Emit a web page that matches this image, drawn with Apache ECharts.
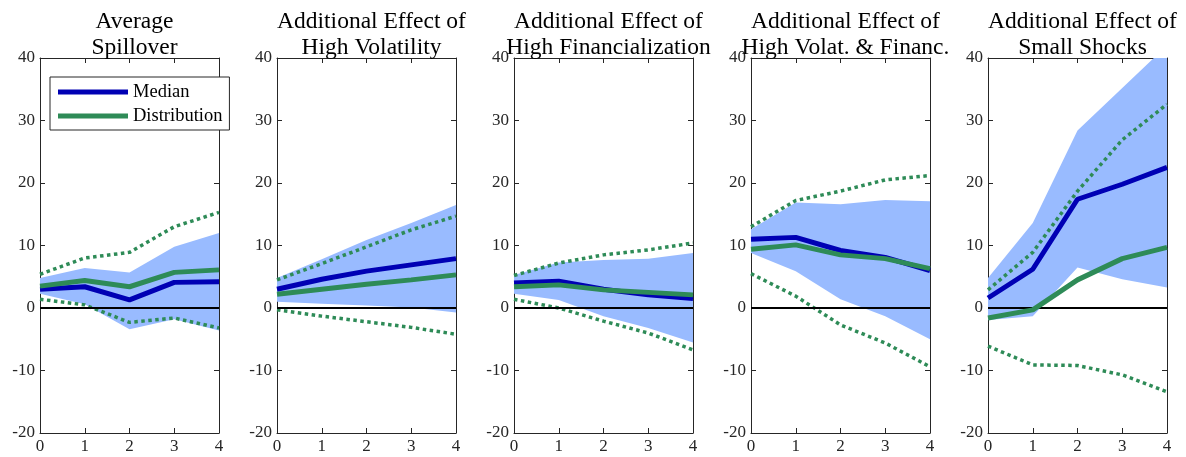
<!DOCTYPE html>
<html><head><meta charset="utf-8">
<script src="https://cdn.jsdelivr.net/npm/echarts@6/dist/echarts.min.js"></script>
<style>html,body{margin:0;padding:0;background:#fff}#c{width:1186px;height:457px}</style>
</head><body><div id="c"></div>
<script>
// ---- data ----
const horizons = [0, 1, 2, 3, 4];
const panelTitles = [
  'Average\nSpillover',
  'Additional Effect of\nHigh Volatility',
  'Additional Effect of\nHigh Financialization',
  'Additional Effect of\nHigh Volat. & Financ.',
  'Additional Effect of\nSmall Shocks'
];
// one row per panel, one value per horizon
const medianLine = [
  [3.0, 3.4, 1.3, 4.1, 4.2],
  [3.0, 4.6, 5.9, 6.9, 7.9],
  [4.0, 4.3, 3.0, 2.1, 1.5],
  [11.0, 11.3, 9.2, 8.1, 6.0],
  [1.6, 6.2, 17.4, 19.8, 22.5]
];
const distributionLine = [
  [3.5, 4.4, 3.4, 5.7, 6.1],
  [2.2, 3.0, 3.8, 4.5, 5.3],
  [3.4, 3.7, 2.9, 2.5, 2.1],
  [9.4, 10.1, 8.5, 7.9, 6.3],
  [-1.6, -0.3, 4.5, 7.9, 9.7]
];
const distUpper = [
  [5.4, 8.0, 8.9, 13.0, 15.3],
  [4.5, 7.1, 9.8, 12.5, 14.7],
  [5.2, 7.2, 8.5, 9.3, 10.4],
  [13.0, 17.2, 18.7, 20.5, 21.2],
  [2.9, 8.9, 18.7, 26.9, 32.6]
];
const distLower = [
  [1.4, 0.5, -2.3, -1.6, -3.2],
  [-0.3, -1.3, -2.2, -3.1, -4.2],
  [1.4, 0.0, -2.1, -4.0, -6.7],
  [5.5, 1.9, -2.7, -5.6, -9.4],
  [-6.1, -9.1, -9.2, -10.7, -13.4]
];
const bandUpper = [
  [4.8, 6.4, 5.7, 9.8, 12.0],
  [4.8, 7.8, 10.9, 13.6, 16.5],
  [5.3, 7.3, 7.7, 7.9, 8.8],
  [12.6, 16.9, 16.6, 17.3, 17.1],
  [4.8, 13.6, 28.4, 35.2, 42.0]
];
const bandLower = [
  [2.3, 0.6, -3.4, -1.8, -3.6],
  [1.0, 0.7, 0.4, 0.1, -0.7],
  [2.3, 1.3, -1.3, -3.2, -5.5],
  [8.8, 5.9, 1.4, -1.3, -5.0],
  [-1.9, -1.3, 6.5, 4.6, 3.3]
];

// ---- styling / layout ----
const FONT = 'Liberation Serif';
const AX = '#262626';
const BLUE = '#0000b4';
const GREEN = '#2e8b57';
const BAND = '#99bbff';
const lefts = [40, 277, 514, 751, 988];
const W = 179, TOP = 58, H = 375;

const pairs = arr => horizons.map((h, k) => [h, arr[k]]);

const grid = [], xAxis = [], yAxis = [], series = [], title = [];
lefts.forEach((L, i) => {
  grid.push({left: L, top: TOP, width: W, height: H});
  title.push({
    text: panelTitles[i], left: L + W / 2, top: 4, textAlign: 'center',
    textStyle: {fontFamily: FONT, fontSize: 23.5, fontWeight: 'normal', color: '#000', lineHeight: 26}
  });
  const common = {
    type: 'value', gridIndex: i, splitLine: {show: false},
    axisLine: {show: true, onZero: false, lineStyle: {color: AX, width: 1}},
    axisTick: {show: true, inside: true, length: 5, lineStyle: {color: AX}}
  };
  xAxis.push(Object.assign({}, common, {position: 'bottom', min: 0, max: 4, interval: 1,
    axisLabel: {fontFamily: FONT, fontSize: 17, color: AX, margin: 5}}));
  xAxis.push(Object.assign({}, common, {position: 'top', min: 0, max: 4, interval: 1, axisLabel: {show: false}}));
  yAxis.push(Object.assign({}, common, {position: 'left', min: -20, max: 40, interval: 10,
    axisLabel: {fontFamily: FONT, fontSize: 17, color: AX, margin: 5}}));
  yAxis.push(Object.assign({}, common, {position: 'right', min: -20, max: 40, interval: 10, axisLabel: {show: false}}));

  const xi = 2 * i, yi = 2 * i;
  const base = {type: 'line', xAxisIndex: xi, yAxisIndex: yi, symbol: 'none', silent: true, animation: false};
  // band as polygon through the axis scales
  series.push({
    type: 'custom', name: 'band' + i, xAxisIndex: xi, yAxisIndex: yi, silent: true, z: 1,
    data: horizons.map((h, k) => [h, bandLower[i][k], bandUpper[i][k]]),
    renderItem: function (params, api) {
      if (params.dataIndex !== 0) return null;
      const up = [], lo = [];
      horizons.forEach((h, k) => {
        up.push(api.coord([h, bandUpper[i][k]]));
        lo.push(api.coord([h, bandLower[i][k]]));
      });
      const cs = params.coordSys;
      return {
        type: 'polygon',
        shape: {points: up.concat(lo.reverse())},
        style: {fill: BAND, stroke: null},
        clipPath: {type: 'rect', shape: {x: cs.x, y: cs.y, width: cs.width, height: cs.height}}
      };
    },
    markLine: {silent: true, symbol: 'none', label: {show: false}, animation: false,
      lineStyle: {color: '#000', width: 2, type: 'solid'}, data: [{yAxis: 0}]}
  });
  series.push(Object.assign({}, base, {
    name: 'distUpper' + i, data: pairs(distUpper[i]), z: 3,
    lineStyle: {color: GREEN, width: 3.5, type: [3.5, 3.5], cap: 'butt'}
  }));
  series.push(Object.assign({}, base, {
    name: 'distLower' + i, data: pairs(distLower[i]), z: 3,
    lineStyle: {color: GREEN, width: 3.5, type: [3.5, 3.5], cap: 'butt'}
  }));
  series.push(Object.assign({}, base, {
    name: 'Median', data: pairs(medianLine[i]), z: 4, color: BLUE,
    lineStyle: {color: BLUE, width: 5}
  }));
  series.push(Object.assign({}, base, {
    name: 'Distribution', data: pairs(distributionLine[i]), z: 5, color: GREEN,
    lineStyle: {color: GREEN, width: 5}
  }));
});

const chart = echarts.init(document.getElementById('c'), null, {renderer: 'canvas'});
chart.setOption({
  animation: false,
  backgroundColor: '#fff',
  title, grid, xAxis, yAxis, series,
  legend: {
    data: [{name: 'Median', icon: 'rect'}, {name: 'Distribution', icon: 'rect'}],
    orient: 'vertical', left: 50, top: 77, z: 10,
    itemWidth: 70, itemHeight: 5, itemGap: 4,
    padding: [5, 7, 4, 8],
    backgroundColor: '#fff', borderColor: AX, borderWidth: 1,
    selectedMode: false,
    textStyle: {fontFamily: FONT, fontSize: 18.5, color: '#000', lineHeight: 20}
  }
});
</script>
</body></html>
